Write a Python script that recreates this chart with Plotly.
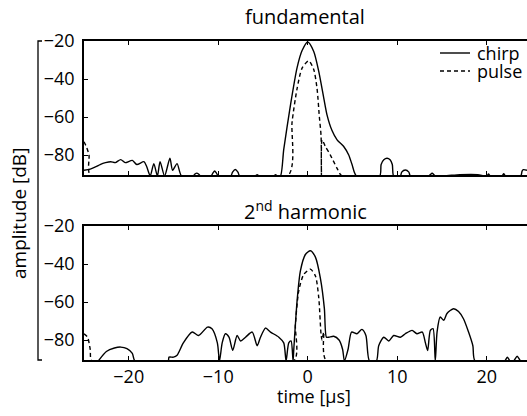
import plotly.graph_objects as go

# ---------------- data ----------------
tick_vals_x = [-20, -10, 0, 10, 20]
tick_vals_y = [-20, -40, -60, -80]

# fundamental, chirp
t_fund_chirp = [-25.0, -24.3, -23.6, -23.2, -22.6, -22.0, -21.5, -20.9, -20.4, -19.6, -19.1, -18.3,
                -18.0, -17.6, -17.2, -16.8, -16.5, -16.0, -15.4, -15.1, -14.6, -14.1,
                -12.8, -12.6, -12.4, -12.2, -12.0, -10.8, -10.6, -10.4, -10.2, -10.0,
                -8.6, -8.4, -8.1, -7.8, -7.6, -5.9, -5.65, -5.4, -3.8, -3.6, -3.4,
                -3.05, -2.68, -1.94, -1.19, -0.63, 0.0, 0.67, 1.23, 1.79, 2.16, 2.7, 3.28,
                4.02, 4.58, 4.95, 5.44,
                8.04, 8.2, 8.5, 8.86, 9.2, 9.45, 9.6,
                10.35, 10.5, 10.9, 11.3, 11.47,
                13.5, 13.9, 14.3, 17.0, 19.0, 20.0, 20.2, 20.4, 21.7, 21.9, 22.1,
                23.8, 23.95, 24.1, 24.5]
db_fund_chirp = [-88, -87.4, -86, -85, -84, -83.5, -84, -82.4, -84, -82.8, -85, -83.5,
                 -86, -91, -84.5, -91, -83.5, -91, -81.7, -88, -84.5, -91,
                 -91, -90, -89.5, -90, -91, -91, -89.5, -88.4, -89.5, -91,
                 -91, -89, -87.6, -89, -91, -91, -90.3, -91, -91, -90.3, -91,
                 -91, -77, -54, -34, -25, -20.5, -25.5, -36, -50, -59, -67, -72,
                 -75.5, -80, -85, -91,
                 -91, -85, -82.5, -81.7, -82.5, -85, -91,
                 -91, -89, -87.9, -89, -91,
                 -91, -89.6, -91, -90.3, -90.3, -91, -90, -91, -91, -89.8, -91,
                 -91, -88.5, -87.7, -88]

# fundamental, pulse
t_fund_pulse = [-25.0, -24.7, -24.44, -24.26, -2.23, -1.75, -1.19, -0.63, 0.11, 0.67,
                1.04, 1.30, 1.49, 1.53, 1.6, 1.97, 2.53, 3.28, 3.84, 24.5]
db_fund_pulse = [-73, -76, -80, -91, -91, -62.6, -45, -34.3, -30.4, -35,
                 -45, -60, -70, -91, -72, -75.5, -80, -87, -91, -91]

# 2nd harmonic, chirp
t_harm_chirp = [-23.4, -22.5, -21.6, -20.9, -20.2, -19.6, -19.3, -15.6, -15.5, -15.0, -14.6,
                -13.9, -12.9, -12.2, -11.2, -10.7, -10.1, -9.86, -9.56, -9.2, -8.8, -8.38,
                -7.89, -7.5, -6.95, -6.2, -5.65, -5.28, -4.72, -4.16, -3.23, -2.68, -2.42,
                -2.12, -1.86, -1.64, -1.56, -1.19, -0.82, -0.26, 0.3, 0.86, 1.42, 1.86,
                2.09, 2.35, 2.9, 3.5, 3.9, 4.1, 4.5, 4.9, 5.5, 6.05, 6.5, 6.9,
                7.67, 7.93, 8.5, 9.05, 9.6, 10.35, 10.9, 11.66, 12.2, 12.8, 13.15, 13.4,
                13.7, 14.0, 14.25, 14.45, 14.8, 15.2, 15.56, 16.3, 16.85, 17.4, 17.97,
                18.45, 18.7, 22.0, 22.3, 22.6, 23.0, 23.4, 23.8, 24.5]
db_harm_chirp = [-91, -86, -84.2, -83.7, -84.5, -87, -91, -91, -89, -89, -88,
                 -81.5, -75.8, -77.6, -73.2, -74.1, -81.5, -91, -81.5, -76.7, -78.5, -85.4,
                 -77.6, -80.5, -78.5, -75.8, -83, -78.5, -73.7, -75.8, -78.5, -81.5, -91,
                 -81.5, -80.5, -91, -85, -59.4, -43.6, -35, -33, -36.4, -47.7, -63.5,
                 -78.5, -78.5, -78, -80, -85, -91, -85, -75.8, -76.7, -74.4, -77.6, -91,
                 -91, -83, -78.5, -80.5, -77.6, -78.5, -76.7, -74.9, -76.7, -75.8, -81.5, -85.5,
                 -74.9, -74, -91, -75.8, -67.9, -69.6, -66, -63.5, -65, -68.8, -75.8,
                 -83, -91, -91, -89, -91, -91, -88.5, -91, -91]

# 2nd harmonic, pulse
t_harm_pulse = [-25.0, -24.6, -24.3, -24.1, -1.56, -1.38, -1.0, -0.45, 0.3, 0.86,
                1.23, 1.49, 1.6, 1.79, 2.09, 24.5]
db_harm_pulse = [-76.7, -78.5, -85, -91, -91, -72, -54, -45.5, -42.7, -46.3,
                 -57.7, -77, -80, -75.8, -91, -91]

series_names = ["chirp", "pulse"]
panel_titles = ["fundamental", "2<sup>nd</sup> harmonic"]

# ---------------- figure ----------------
W, H = 527, 416
FONT = "Open Sans"

def px(x):
    return x / W

def py(y):
    return 1 - y / H

fig = go.Figure()
solid = dict(color="black", width=1.4)
dashed = dict(color="black", width=1.4, dash="4px,3px")

fig.add_trace(go.Scatter(x=t_fund_chirp, y=db_fund_chirp, mode="lines", line=solid,
                         line_shape="spline", line_smoothing=0.7,
                         xaxis="x", yaxis="y", showlegend=False, name=series_names[0]))
fig.add_trace(go.Scatter(x=t_fund_pulse, y=db_fund_pulse, mode="lines", line=dashed,
                         line_shape="spline", line_smoothing=0.7,
                         xaxis="x", yaxis="y", showlegend=False, name=series_names[1]))
fig.add_trace(go.Scatter(x=t_harm_chirp, y=db_harm_chirp, mode="lines", line=solid,
                         line_shape="spline", line_smoothing=0.7,
                         xaxis="x2", yaxis="y2", showlegend=False, name=series_names[0]))
fig.add_trace(go.Scatter(x=t_harm_pulse, y=db_harm_pulse, mode="lines", line=dashed,
                         line_shape="spline", line_smoothing=0.7,
                         xaxis="x2", yaxis="y2", showlegend=False, name=series_names[1]))

xdom = [px(84), 1.0]
ydom_top = [py(175), py(41)]
ydom_bot = [py(360), py(226)]

common_x = dict(domain=xdom, range=[-25, 24.5], showline=True, mirror="ticks",
                linecolor="black", linewidth=1.5, ticks="inside", ticklen=4,
                tickcolor="black", tickvals=tick_vals_x, showgrid=False, zeroline=False,
                automargin=False,
                tickfont=dict(family=FONT, size=18, color="black"))
common_y = dict(range=[-90.5, -20], showline=True, linecolor="black", linewidth=1.5,
                ticks="inside", ticklen=4, tickcolor="black", tickvals=tick_vals_y,
                showgrid=False, zeroline=False, ticklabelstandoff=4, automargin=False,
                tickfont=dict(family=FONT, size=18, color="black"))

fig.update_layout(
    width=W, height=H,
    margin=dict(l=0, r=0, t=0, b=0, pad=0, autoexpand=False),
    paper_bgcolor="white", plot_bgcolor="white",
    font=dict(family=FONT, size=18, color="black"),
    showlegend=False,
    xaxis=dict(**common_x, anchor="y", showticklabels=False),
    yaxis=dict(**common_y, domain=ydom_top, anchor="x"),
    xaxis2=dict(**common_x, anchor="y2", showticklabels=True),
    yaxis2=dict(**common_y, domain=ydom_bot, anchor="x2"),
)

# outer bracket axis on the far left
fig.add_shape(type="path", xref="paper", yref="paper",
              path=f"M {px(42)},{py(41)} L {px(38)},{py(41)} L {px(38)},{py(360)} L {px(42)},{py(360)}",
              line=dict(color="black", width=1.3))

def label(x, y, text, size=18, angle=0, xanchor="center"):
    fig.add_annotation(x=px(x), y=py(y), xref="paper", yref="paper", text=text,
                       xanchor=xanchor, yanchor="middle", textangle=angle,
                       showarrow=False, font=dict(family=FONT, size=size, color="black"))

# panel titles
label(305, 17, panel_titles[0], size=20)
label(305, 210, panel_titles[1], size=20)

# axis titles
label(19, 214, "amplitude [dB]", size=19, angle=-90)
label(314, 396, "time [µs]")

# legend (manual)
fig.add_shape(type="line", xref="paper", yref="paper", x0=px(440), x1=px(470),
              y0=py(53), y1=py(53), line=solid)
fig.add_shape(type="line", xref="paper", yref="paper", x0=px(440), x1=px(470),
              y0=py(71), y1=py(71), line=dashed)
label(475, 53, series_names[0], xanchor="left")
label(475, 71, series_names[1], xanchor="left")

fig.write_html("out.html")
